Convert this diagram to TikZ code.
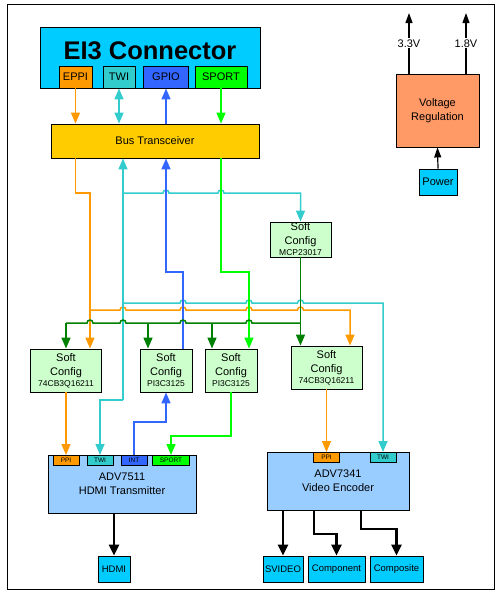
\documentclass[tikz,border=0pt]{standalone}
\usepackage{fontspec}
\setmainfont{Liberation Sans}
\usetikzlibrary{arrows.meta}
\newcommand{\partfont}{\fontsize{8.5}{10}\selectfont}

\begin{document}
\begin{tikzpicture}[x=1pt,y=-1pt,font=\fontsize{11}{14}\selectfont,
	blk/.style={draw=black, line width=0.9pt, inner sep=0pt, align=center},
	tag/.style={blk, anchor=north, minimum height=10pt, font=\fontsize{6.5}{7}\selectfont},
	soft/.style={blk, fill=softgreen, minimum height=43pt},
	outbox/.style={blk, fill=conncyan, minimum height=26pt, font=\fontsize{9.5}{11}\selectfont},
	wire/.style={line width=1.5pt},
	arr/.style={-{Triangle[width=9pt,length=11pt]}},
	darr/.style={{Triangle[width=9pt,length=11pt]}-{Triangle[width=9pt,length=11pt]}},
	outarr/.style={line width=2.8pt, -{Triangle[width=10pt,length=11pt]}},
	pwr/.style={line width=1.2pt, -{Triangle[width=7pt,length=10pt]}},
	lab/.style={fill=white, inner sep=1pt},
	hop/.style={to path={-- ([xshift=-3pt]\tikztotarget) arc[start angle=180,end angle=360,radius=3]}}]
	\definecolor{conncyan}{RGB}{0,204,255}
	\definecolor{eppicol}{RGB}{255,153,0}
	\definecolor{twicol}{RGB}{51,204,204}
	\definecolor{gpiocol}{RGB}{51,102,255}
	\definecolor{sportcol}{RGB}{0,255,0}
	\definecolor{dkgcol}{RGB}{0,128,0}
	\definecolor{busyellow}{RGB}{255,204,0}
	\definecolor{softgreen}{RGB}{204,255,204}
	\definecolor{chipblue}{RGB}{153,204,255}
	\definecolor{voltorange}{RGB}{255,153,102}
	\useasboundingbox (0,0) rectangle (497,595);
	\draw[line width=1pt] (7,4) rectangle (494,589);

	%connector and bus
	\node[blk, fill=conncyan, minimum width=220pt, minimum height=61pt] (ei3) at (150,57.5) {};
	\node[font=\fontsize{25.5}{30}\selectfont\bfseries] (ei3t) at (150,51) {EI3 Connector};
	\node[blk, fill=eppicol, minimum width=33pt, minimum height=22pt] (eppi) at (75.5,77) {EPPI};
	\node[blk, fill=twicol, minimum width=32pt, minimum height=22pt] (twi) at (119,77) {TWI};
	\node[blk, fill=gpiocol, minimum width=45pt, minimum height=22pt] (gpio) at (166,77) {GPIO};
	\node[blk, fill=sportcol, minimum width=52pt, minimum height=22pt] (sport) at (221,77) {SPORT};
	\node[blk, fill=busyellow, minimum width=208pt, minimum height=34pt] (bus) at (155,141) {Bus Transceiver};

	%soft config
	\node[soft, minimum width=61pt, minimum height=35pt] (mcp) at (300.5,239.5) {Soft\\Config\\[-3pt]{\partfont MCP23017}};
	\node[soft, minimum width=71pt] (sc1) at (66,370.5) {Soft\\Config\\[-3pt]{\partfont 74CB3Q16211}};
	\node[soft, minimum width=52pt] (sc2) at (166,370.5) {Soft\\Config\\[-3pt]{\partfont PI3C3125}};
	\node[soft, minimum width=52pt] (sc3) at (231,370.5) {Soft\\Config\\[-3pt]{\partfont PI3C3125}};
	\node[soft, minimum width=71pt] (sc4) at (326.5,367.5) {Soft\\Config\\[-3pt]{\partfont 74CB3Q16211}};

	%chips
	\node[blk, fill=chipblue, minimum width=148pt, minimum height=58pt] (hdtx) at (122,484) {ADV7511\\HDMI Transmitter};
	\node[tag, fill=eppicol, minimum width=26pt] (hppi) at (66,455) {PPI};
	\node[tag, fill=twicol, minimum width=26pt] (htwi) at (100,455) {TWI};
	\node[tag, fill=gpiocol, minimum width=26pt] (hint) at (134,455) {INT};
	\node[tag, fill=sportcol, minimum width=37pt] (hsport) at (171,455) {SPORT};
	\node[blk, fill=chipblue, minimum width=142pt, minimum height=58pt] (venc) at (338,481) {ADV7341\\Video Encoder};
	\node[tag, fill=eppicol, minimum width=26pt] (vppi) at (326.5,452) {PPI};
	\node[tag, fill=twicol, minimum width=26pt] (vtwi) at (383,452) {TWI};

	%outputs
	\node[outbox, minimum width=32pt] (hdmi) at (114,569) {HDMI};
	\node[outbox, minimum width=40pt] (svideo) at (283,569) {SVIDEO};
	\node[outbox, minimum width=57pt] (comp) at (336.5,569) {Component};
	\node[outbox, minimum width=53pt] (compo) at (396.5,569) {Composite};

	%power
	\node[blk, fill=voltorange, minimum width=83pt, minimum height=73pt] (volt) at (437.5,110.5) {Voltage\\Regulation};
	\node[blk, fill=conncyan, minimum width=38pt, minimum height=26pt] (power) at (438,182) {Power};
	\coordinate (v33) at (409,13);
	\coordinate (v18) at (466,13);
	\draw[pwr] (power.north) -- (volt.south);
	\draw[pwr] (volt.north -| v33) -- node[lab] (l33) {3.3V} (v33);
	\draw[pwr] (volt.north -| v18) -- node[lab] (l18) {1.8V} (v18);

	%connector to bus
	\draw[wire, eppicol, arr] (eppi.south) -- (eppi.south |- bus.north);
	\draw[wire, twicol, darr] (twi.south) -- (twi.south |- bus.north);
	\draw[wire, gpiocol, arr] (gpio.south |- bus.north) -- (gpio.south);
	\draw[wire, sportcol, arr] (sport.south) -- (sport.south |- bus.north);

	%bus to soft config
	\draw[wire, eppicol, arr] (bus.south -| eppi) |- (90,193) -- (sc1.north -| 90,0);
	\draw[wire, eppicol, arr] (90,310) to[hop] (123,310) to[hop] (183,310) to[hop] (249,310) to[hop] (300.5,310) -| (sc4.north -| 350,0);
	\draw[wire, twicol, arr] (123,400) -- (bus.south -| 123,0);
	\draw[wire, twicol, arr] (123,193) to[hop] (166,193) to[hop] (221,193) -| (mcp.north);
	\draw[wire, twicol, arr] (123,303) to[hop] (183,303) to[hop] (249,303) to[hop] (300.5,303) -| (vtwi.north);
	\draw[wire, twicol, arr] (123,400) -| (htwi.north);
	\draw[wire, gpiocol, arr] (sc2.north -| 183,0) |- (166,272) -- (bus.south -| gpio);
	\draw[wire, sportcol, arr] (bus.south -| sport) |- (249,272) -- (sc3.north -| 249,0);
	\draw[wire, dkgcol, arr] (mcp.south) -- (sc4.north -| mcp);
	\draw[wire, dkgcol] (66,323) to[hop] (90,323) to[hop] (123,323) to[hop] (183,323) to[hop] (249,323) -- (300.5,323);
	\foreach \b/\x in {sc1/66, sc2/148, sc3/212}
		\draw[wire, dkgcol, arr] (\x,323) -- (\b.north -| \x,0);

	%soft config to chips
	\draw[wire, eppicol, arr] (sc1.south) -- (hppi.north);
	\draw[wire, eppicol, arr] (sc4.south) -- (vppi.north);
	\draw[wire, gpiocol, arr] (hint.north) |- (166,422) -- (sc2.south);
	\draw[wire, sportcol, arr] (sc3.south) |- (171,436) -- (hsport.north);

	%chip outputs
	\draw[outarr] (hdtx.south -| hdmi) -- (hdmi.north);
	\draw[outarr] (venc.south -| svideo) -- (svideo.north);
	\draw[outarr] (venc.south -| 314,0) |- (336.5,534) -- (comp.north);
	\draw[outarr] (venc.south -| 361,0) |- (396.5,529) -- (compo.north);
\end{tikzpicture}
\end{document}
